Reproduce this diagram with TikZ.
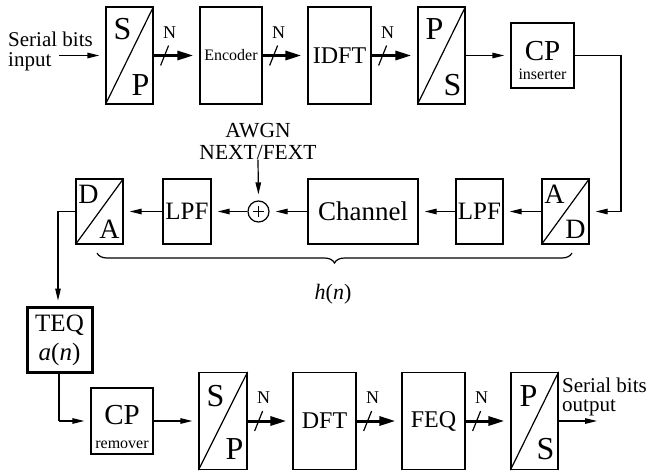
\documentclass[tikz,border=0pt]{standalone}
\usepackage{fontspec}
\setmainfont{Liberation Serif}
\usetikzlibrary{arrows.meta,decorations.pathreplacing,calc}

\newcommand\fs[1]{\fontsize{#1}{#1}\selectfont}

\begin{document}
\begin{tikzpicture}[x=1pt,y=-1pt,
  box/.style={draw,line width=1.2pt,inner sep=0pt},
  tallbox/.style={box,minimum height=97pt,minimum width=#1},
  midbox/.style={box,minimum height=65pt,minimum width=#1},
  wire/.style={line width=1.2pt},
  arr/.style={wire,-{Triangle[length=12pt,width=5.5pt]},shorten >=6pt},
  bus/.style={line width=3pt,-{Triangle[length=16pt,width=9pt]},shorten >=6pt},
  nlab/.style={inner sep=0pt,font=\fs{18}},
  lbl/.style={inner sep=0pt},
  bigl/.style={lbl,font=\fs{32}},
  midl/.style={lbl,font=\fs{28}},
]
\useasboundingbox (0,0) rectangle (653,474);

% ---------- transmitter ----------
\node[lbl,anchor=base west,font=\fs{21}] (inA) at (8,46) {Serial bits};
\node[lbl,anchor=base west,font=\fs{21}] (inB) at (8,66) {input};
\coordinate (inpt) at (59,55.5);

\node[tallbox=47pt] (sp1) at (129.5,55.5) {};
\node[tallbox=62pt,font=\fs{16}] (enc) at (231,55.5) {Encoder};
\node[tallbox=63pt,font=\fs{24}] (idft) at (339.5,55.5) {IDFT};
\node[tallbox=47pt] (ps1) at (441.5,55.5) {};
\node[midbox=63pt] (cpi) at (542.5,55.5) {};
\node[lbl,font=\fs{29}] (cpiA) at ($(cpi.center)+(0,-4.5)$) {CP};
\node[lbl,font=\fs{16}] (cpiB) at ($(cpi.south)+(0,-14)$) {inserter};

% serial/parallel converters
\draw[wire] (sp1.south west) -- (sp1.north east);
\node[bigl] (sp1a) at ($(sp1.north west)+(17,23)$) {S};
\node[bigl] (sp1b) at ($(sp1.south east)+(-13,-20)$) {P};
\draw[wire] (ps1.south west) -- (ps1.north east);
\node[bigl] (ps1a) at ($(ps1.north west)+(17,23)$) {P};
\node[bigl] (ps1b) at ($(ps1.south east)+(-13,-20)$) {S};

\draw[arr] (inpt) -- (sp1.west);
\draw[bus] (sp1.east) -- (enc.west);
\draw[wire] ($(sp1.east)+(7,10)$) -- ($(sp1.east)+(15,-10)$);
\node[nlab] (n1) at ($(sp1.east)+(16,-23)$) {N};
\draw[bus] (enc.east) -- (idft.west);
\draw[wire] ($(enc.east)+(7,10)$) -- ($(enc.east)+(15,-10)$);
\node[nlab] (n2) at ($(enc.east)+(16,-23)$) {N};
\draw[bus] (idft.east) -- (ps1.west);
\draw[wire] ($(idft.east)+(7,10)$) -- ($(idft.east)+(15,-10)$);
\node[nlab] (n3) at ($(idft.east)+(16,-23)$) {N};
\draw[arr] (ps1.east) -- (cpi.west);

% ---------- channel ----------
\node[midbox=47pt] (ad) at (565.5,211.5) {};
\draw[wire] (ad.south west) -- (ad.north east);
\node[midl] (ada) at ($(ad.north west)+(13,16)$) {A};
\node[midl] (adb) at ($(ad.south east)+(-14,-15)$) {D};
\node[midbox=47pt,font=\fs{25}] (lpf2) at (479.5,211.5) {LPF};
\node[midbox=110pt,font=\fs{27}] (ch) at (363,211.5) {Channel};
\node[circle,draw,line width=1.2pt,minimum size=21pt,inner sep=0pt] (sum) at (258.5,211.5) {};
\draw[line width=1pt] ($(sum)+(-5.5,0)$) -- ($(sum)+(5.5,0)$);
\draw[line width=1pt] ($(sum)+(0,-5.5)$) -- ($(sum)+(0,5.5)$);
\node[midbox=48pt,font=\fs{25}] (lpf1) at (187,211.5) {LPF};
\node[midbox=47pt] (da) at (99.5,211.5) {};
\draw[wire] (da.south west) -- (da.north east);
\node[midl] (daa) at ($(da.north west)+(13,16)$) {D};
\node[midl] (dab) at ($(da.south east)+(-14,-15)$) {A};
\node[lbl,align=center,font=\fs{21.5}] (noise) at (258,141.5) {AWGN\\NEXT/FEXT};

\coordinate (turn1) at (621,55.5);
\coordinate (turn2) at (621,211.5);
\draw[wire] (cpi.east) -- (turn1) -- (turn2);
\draw[arr] (turn2) -- (ad.east);
\draw[arr] (ad.west) -- (lpf2.east);
\draw[arr] (lpf2.west) -- (ch.east);
\draw[arr] (ch.west) -- (sum.east);
\draw[arr] (noise.south) -- (sum.north);
\draw[arr] (sum.west) -- (lpf1.east);
\draw[arr] (lpf1.west) -- (da.east);

\coordinate (brL) at (97,253);
\coordinate (brR) at (572,253);
\draw[wire,decorate,decoration={brace,mirror,amplitude=10pt}] (brL) -- (brR);
\node[lbl,font=\fs{22}] (hn) at (333,294) {\textit{h}(\textit{n})};

% ---------- receiver ----------
\node[box,line width=3pt,minimum width=65pt,minimum height=65pt] (teq) at (59.5,339.5) {};
\node[lbl,font=\fs{25}] (teqA) at ($(teq.center)+(0,-14)$) {TEQ};
\node[lbl,font=\fs{25}] (teqB) at ($(teq.center)+(0,15)$) {\textit{a}(\textit{n})};

\coordinate (turn3) at (58,211.5);
\draw[wire,-{Triangle[length=12pt,width=5.5pt]},shorten >=5pt] (da.west) -- (turn3) -- (teq.north -| turn3);

\node[box,minimum width=62pt,minimum height=66pt] (cpr) at (122,421) {};
\node[lbl,font=\fs{29}] (cprA) at ($(cpr.center)+(0,-6)$) {CP};
\node[lbl,font=\fs{16}] (cprB) at ($(cpr.south)+(0,-10)$) {remover};

\node[tallbox=48pt] (sp2) at (223,421) {};
\draw[wire] (sp2.south west) -- (sp2.north east);
\node[bigl] (sp2a) at ($(sp2.north west)+(17,24)$) {S};
\node[bigl] (sp2b) at ($(sp2.south east)+(-13,-21)$) {P};
\node[tallbox=63pt,font=\fs{24}] (dft) at (324.5,421) {DFT};
\node[tallbox=63pt,font=\fs{24}] (feq) at (433.5,421) {FEQ};
\node[tallbox=47pt] (ps2) at (534.5,421) {};
\draw[wire] (ps2.south west) -- (ps2.north east);
\node[bigl] (ps2a) at ($(ps2.north west)+(18,24)$) {P};
\node[bigl] (ps2b) at ($(ps2.south east)+(-13,-21)$) {S};

\coordinate (turn4) at (59,421);
\draw[wire] (teq.south -| turn4) -- (turn4);
\draw[arr] (turn4) -- (cpr.west);
\draw[arr] (cpr.east) -- (sp2.west);
\draw[bus] (sp2.east) -- (dft.west);
\draw[wire] ($(sp2.east)+(7,10)$) -- ($(sp2.east)+(15,-10)$);
\node[nlab] (n4) at ($(sp2.east)+(16,-23)$) {N};
\draw[bus] (dft.east) -- (feq.west);
\draw[wire] ($(dft.east)+(7,10)$) -- ($(dft.east)+(15,-10)$);
\node[nlab] (n5) at ($(dft.east)+(16,-23)$) {N};
\draw[bus] (feq.east) -- (ps2.west);
\draw[wire] ($(feq.east)+(7,10)$) -- ($(feq.east)+(15,-10)$);
\node[nlab] (n6) at ($(feq.east)+(16,-23)$) {N};

\coordinate (outpt) at (603,421);
\draw[arr] (ps2.east) -- (outpt);
\node[lbl,anchor=base west,font=\fs{21}] (outA) at (562,392) {Serial bits};
\node[lbl,anchor=base west,font=\fs{21}] (outB) at (562,411) {output};
\end{tikzpicture}
\end{document}
